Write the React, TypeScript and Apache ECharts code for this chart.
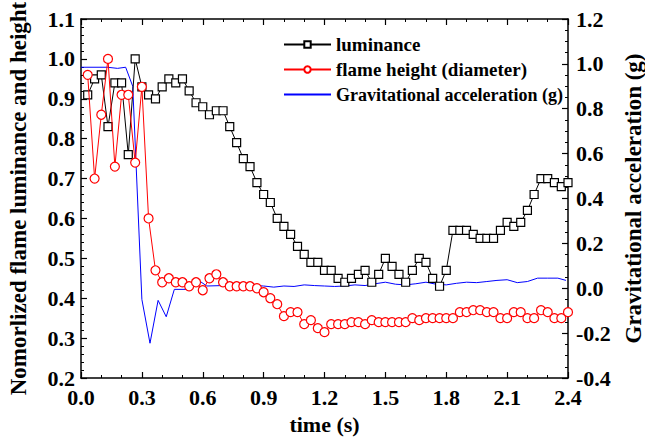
import React, { useEffect, useRef } from "react";
import * as echarts from "echarts";

const FONT = "'Liberation Serif', 'Times New Roman', serif";

const frameTimes = [
  0.033, 0.067, 0.1, 0.133, 0.167, 0.2, 0.233, 0.267, 0.3, 0.333, 0.367, 0.4,
  0.433, 0.467, 0.5, 0.533, 0.567, 0.6, 0.633, 0.667, 0.7, 0.733, 0.767, 0.8,
  0.833, 0.867, 0.9, 0.933, 0.967, 1.0, 1.033, 1.067, 1.1, 1.133, 1.167, 1.2,
  1.233, 1.267, 1.3, 1.333, 1.367, 1.4, 1.433, 1.467, 1.5, 1.533, 1.567, 1.6,
  1.633, 1.667, 1.7, 1.733, 1.767, 1.8, 1.833, 1.867, 1.9, 1.933, 1.967, 2.0,
  2.033, 2.067, 2.1, 2.133, 2.167, 2.2, 2.233, 2.267, 2.3, 2.333, 2.367, 2.4,
];

const luminance = [
  0.91, 0.95, 0.96, 0.83, 0.94, 0.94, 0.76, 1.0, 0.93, 0.91, 0.9, 0.93,
  0.95, 0.94, 0.95, 0.92, 0.89, 0.88, 0.86, 0.87, 0.87, 0.83, 0.79, 0.75,
  0.73, 0.69, 0.66, 0.64, 0.6, 0.58, 0.56, 0.53, 0.51, 0.49, 0.49, 0.47,
  0.47, 0.45, 0.44, 0.45, 0.46, 0.47, 0.44, 0.46, 0.5, 0.48, 0.46, 0.44,
  0.47, 0.5, 0.49, 0.45, 0.43, 0.47, 0.57, 0.57, 0.57, 0.56, 0.55, 0.55,
  0.55, 0.57, 0.59, 0.58, 0.59, 0.62, 0.66, 0.7, 0.7, 0.69, 0.68, 0.69,
];

const flameHeight = [
  0.96, 0.7, 0.86, 1.0, 0.73, 0.91, 0.91, 0.74, 0.93, 0.6, 0.47, 0.44,
  0.45, 0.44, 0.44, 0.43, 0.44, 0.42, 0.45, 0.46, 0.44, 0.43, 0.43, 0.43,
  0.43, 0.425, 0.415, 0.4, 0.385, 0.355, 0.365, 0.365, 0.335, 0.345, 0.325, 0.315,
  0.335, 0.335, 0.335, 0.34, 0.34, 0.335, 0.345, 0.34, 0.34, 0.34, 0.34, 0.34,
  0.35, 0.345, 0.35, 0.35, 0.35, 0.35, 0.35, 0.365, 0.365, 0.37, 0.37, 0.365,
  0.365, 0.35, 0.35, 0.365, 0.365, 0.35, 0.35, 0.37, 0.365, 0.35, 0.35, 0.365,
];

const gTimes = [
  0.0, 0.13, 0.18, 0.22, 0.255, 0.3, 0.34, 0.38, 0.42, 0.46, 0.54, 0.58,
  0.62, 0.7, 0.74, 0.78, 0.85, 0.9, 0.95, 1.0, 1.05, 1.1, 1.15, 1.2,
  1.25, 1.3, 1.35, 1.4, 1.45, 1.5, 1.55, 1.6, 1.65, 1.7, 1.75, 1.8,
  1.85, 1.9, 1.95, 2.0, 2.05, 2.1, 2.15, 2.2, 2.25, 2.3, 2.35, 2.39,
];

const gravity = [
  0.985, 0.985, 0.98, 0.985, 0.9, -0.05, -0.245, -0.054, -0.127, -0.005, -0.005, 0.035,
  0.01, 0.012, 0.002, 0.005, 0.012, 0.01, 0.005, 0.01, 0.008, 0.015, 0.012, 0.01,
  0.008, 0.01, 0.015, 0.012, 0.02, 0.027, 0.018, 0.015, 0.02, 0.027, 0.018, 0.015,
  0.022, 0.027, 0.025, 0.03, 0.035, 0.038, 0.025, 0.03, 0.045, 0.045, 0.045, 0.035,
];

const seriesNames = ["luminance", "flame height (diameter)", "Gravitational acceleration (g)"];

export default function App() {
  const ref = useRef<HTMLDivElement>(null);
  useEffect(() => {
    if (!ref.current) return;
    const chart = echarts.init(ref.current, undefined, { renderer: "svg" });
    const labelStyle = {
      fontFamily: FONT,
      fontWeight: "bold" as const,
      fontSize: 22,
      color: "#000",
    };
    const axisLine = { show: true, onZero: false, lineStyle: { color: "#000", width: 1.5 } };
    const tick = { show: true, inside: true, length: 6, lineStyle: { color: "#000", width: 1.2 } };
    const minor = (n: number) => ({
      show: true,
      splitNumber: n,
      length: 3,
      lineStyle: { color: "#000", width: 1 },
    });
    chart.setOption({
      animation: false,
      backgroundColor: "#fff",
      grid: { left: 81, right: 77, top: 19, bottom: 63, containLabel: false, outerBoundsMode: "none" },
      legend: {
        orient: "vertical",
        left: 283,
        top: 35,
        padding: 0,
        itemWidth: 47,
        itemHeight: 8,
        itemGap: 6,
        textStyle: { fontFamily: FONT, fontWeight: "bold", fontSize: 19, color: "#000", lineHeight: 19 },
        data: [
          { name: seriesNames[0] },
          { name: seriesNames[1] },
          { name: seriesNames[2], textStyle: { fontSize: 18 }, itemStyle: { opacity: 0 } },
        ],
      },
      xAxis: [
        {
          type: "value",
          position: "bottom",
          min: 0,
          max: 2.4,
          interval: 0.3,
          axisLine,
          axisTick: tick,
          minorTick: minor(3),
          splitLine: { show: false },
          axisLabel: { ...labelStyle, margin: 8, formatter: (v: number) => v.toFixed(1) },
          name: "time (s)",
          nameLocation: "middle",
          nameGap: 35,
          nameTextStyle: { ...labelStyle },
        },
        {
          type: "value",
          position: "top",
          min: 0,
          max: 2.4,
          interval: 0.3,
          axisLine,
          axisTick: tick,
          minorTick: minor(3),
          splitLine: { show: false },
          axisLabel: { show: false },
        },
      ],
      yAxis: [
        {
          type: "value",
          position: "left",
          min: 0.2,
          max: 1.1,
          interval: 0.1,
          axisLine,
          axisTick: tick,
          minorTick: minor(5),
          splitLine: { show: false },
          axisLabel: { ...labelStyle, margin: 6, formatter: (v: number) => v.toFixed(1) },
          name: "Nomorlized flame luminance and height",
          nameLocation: "middle",
          nameGap: 51,
          nameRotate: 90,
          nameTextStyle: { ...labelStyle, fontSize: 23 },
        },
        {
          type: "value",
          position: "right",
          min: -0.4,
          max: 1.2,
          interval: 0.2,
          axisLine,
          axisTick: tick,
          minorTick: minor(4),
          splitLine: { show: false },
          axisLabel: { ...labelStyle, margin: 8, formatter: (v: number) => v.toFixed(1) },
          name: "Gravitational acceleration (g)",
          nameLocation: "middle",
          nameGap: 46,
          nameRotate: 90,
          nameTextStyle: { ...labelStyle, fontSize: 23 },
        },
      ],
      series: [
        {
          name: seriesNames[0],
          type: "line",
          xAxisIndex: 0,
          yAxisIndex: 0,
          data: frameTimes.map((t, i) => [t, luminance[i]]),
          symbol: "rect",
          symbolSize: 8,
          itemStyle: { color: "#fff", borderColor: "#000", borderWidth: 1.2 },
          lineStyle: { color: "#000", width: 1 },
          z: 3,
        },
        {
          name: seriesNames[1],
          type: "line",
          xAxisIndex: 0,
          yAxisIndex: 0,
          data: frameTimes.map((t, i) => [t, flameHeight[i]]),
          symbol: "circle",
          symbolSize: 9,
          itemStyle: { color: "#fff", borderColor: "#ff0000", borderWidth: 1.2 },
          lineStyle: { color: "#ff0000", width: 1 },
          z: 4,
        },
        {
          name: seriesNames[2],
          type: "line",
          xAxisIndex: 0,
          yAxisIndex: 1,
          data: gTimes.map((t, i) => [t, gravity[i]]),
          symbol: "none",
          showSymbol: false,
          itemStyle: { color: "#0000ff" },
          lineStyle: { color: "#0000ff", width: 1 },
          z: 2,
        },
      ],
    });
    return () => chart.dispose();
  }, []);
  return (
    <div
      ref={ref}
      style={{ position: "fixed", left: 0, top: 0, width: 645, height: 441, background: "#fff" }}
    />
  );
}
